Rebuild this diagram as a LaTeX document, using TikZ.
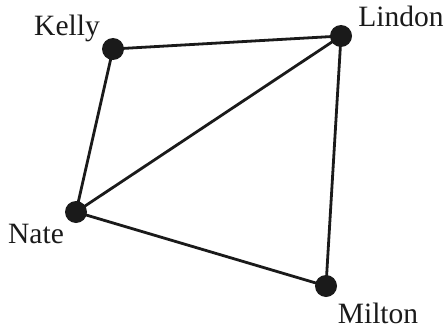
\documentclass[tikz,border=0pt]{standalone}
\usepackage{fontspec}
\setmainfont{Liberation Serif}
\usetikzlibrary{backgrounds}
\definecolor{ink}{HTML}{1A1A1A}
\begin{document}
\begin{tikzpicture}[x=1pt,y=-1pt,
  vertex/.style={circle,fill=ink,inner sep=0pt,minimum size=22pt},
  lbl/.style={anchor=base,inner sep=0pt,text=ink,font=\fontsize{29.5}{34}\selectfont},
  edge/.style={draw=ink,line width=2.8pt}]
\useasboundingbox (0,0) rectangle (446,329);
\node[vertex] (kelly) at (113,49) {};
\node[vertex] (lindon) at (341,36) {};
\node[vertex] (nate) at (76,212) {};
\node[vertex] (milton) at (326,286) {};
\node[lbl] (lk) at (67,35) {Kelly};
\node[lbl] (ll) at (401,27) {Lindon};
\node[lbl] (ln) at (36,243) {Nate};
\node[lbl] (lm) at (378,323) {Milton};
\begin{pgfonlayer}{background}
\draw[edge] (kelly.center) -- (lindon.center);
\draw[edge] (kelly.center) -- (nate.center);
\draw[edge] (nate.center) -- (lindon.center);
\draw[edge] (nate.center) -- (milton.center);
\draw[edge] (lindon.center) -- (milton.center);
\end{pgfonlayer}
\end{tikzpicture}
\end{document}
